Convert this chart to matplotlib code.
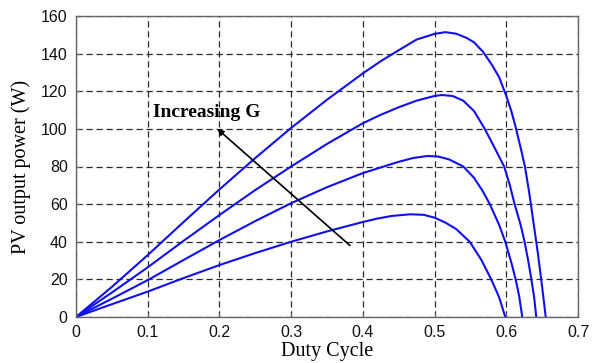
import matplotlib
matplotlib.use("Agg")
import matplotlib.pyplot as plt

# Duty cycle / PV power readings for four irradiance levels (lowest to highest)
x_g1 = [0, 0.05, 0.1, 0.15, 0.2, 0.25, 0.3, 0.35, 0.4, 0.42, 0.44, 0.466, 0.485, 0.5, 0.515, 0.53, 0.549, 0.565, 0.579, 0.59, 0.5986]
p_g1 = [0, 6.8, 13.5, 20.7, 27.6, 34, 40, 45.5, 50.5, 52.3, 53.7, 54.6, 54.3, 52.8, 50.2, 46.8, 40, 30.5, 20, 10.5, 0]

x_g2 = [0, 0.05, 0.1, 0.15, 0.2, 0.25, 0.3, 0.35, 0.4, 0.425, 0.45, 0.47, 0.49, 0.505, 0.52, 0.54, 0.555, 0.567, 0.577, 0.59, 0.5986, 0.607, 0.613, 0.618, 0.6223]
p_g2 = [0, 9.7, 19.6, 30.3, 40.9, 51, 60.5, 69, 76.5, 79.5, 82.5, 84.5, 85.6, 85.3, 83.8, 80, 74, 67, 60, 49, 40, 29, 20, 11, 0]

x_g3 = [0, 0.05, 0.1, 0.15, 0.2, 0.25, 0.3, 0.35, 0.4, 0.425, 0.45, 0.475, 0.5, 0.51, 0.525, 0.54, 0.555, 0.57, 0.585, 0.597, 0.605, 0.6116, 0.62, 0.6255, 0.631, 0.635, 0.639, 0.6418]
p_g3 = [0, 13, 26.4, 40.5, 54.2, 67.5, 80, 92, 103, 107.5, 111.5, 115, 117.5, 118, 117.5, 115, 109.5, 100, 89, 80, 70, 60, 49, 40, 29, 20, 10, 0]

x_g4 = [0, 0.05, 0.1, 0.15, 0.2, 0.25, 0.3, 0.35, 0.4, 0.425, 0.45, 0.475, 0.5, 0.515, 0.53, 0.545, 0.555, 0.5675, 0.58, 0.59, 0.6, 0.607, 0.613, 0.62, 0.626, 0.632, 0.638, 0.644, 0.65, 0.655]
p_g4 = [0, 16, 32.9, 50.5, 67.8, 84.5, 100.5, 115.5, 129.5, 136, 141.8, 147.5, 150.5, 151.4, 150.6, 148.3, 146, 141, 134, 127.5, 117.5, 109.5, 101, 90, 80, 66, 50, 34, 16, 0]

x_ticks = [0, 0.1, 0.2, 0.3, 0.4, 0.5, 0.6, 0.7]
x_tick_labels = ["0", "0.1", "0.2", "0.3", "0.4", "0.5", "0.6", "0.7"]
y_ticks = [0, 20, 40, 60, 80, 100, 120, 140, 160]

arrow_tail = (0.382, 38)
arrow_head = (0.197, 100)
label_pos = (0.107, 108.5)

fig = plt.figure(figsize=(5.92, 3.63), dpi=100)
ax = fig.add_axes([76 / 592, (363 - 317) / 363, 502 / 592, 301 / 363])

for xs, ps in [(x_g1, p_g1), (x_g2, p_g2), (x_g3, p_g3), (x_g4, p_g4)]:
    ax.plot(xs, ps, color="#1010ee", lw=1.5, solid_joinstyle="round")

ax.set_xlim(0, 0.7)
ax.set_ylim(0, 160)
ax.set_xticks(x_ticks)
ax.set_xticklabels(x_tick_labels)
ax.set_yticks(y_ticks)

ax.grid(True, color="#2a2a2a", linestyle=(0, (5, 3)), lw=0.9)
for s in ax.spines.values():
    s.set_color("#666666")
    s.set_linewidth(1.0)

ax.tick_params(direction="in", length=3, color="#666666", labelsize=11.5,
               labelcolor="#111111")
ax.tick_params(axis="x", pad=6)
ax.tick_params(axis="y", pad=6)
for lab in ax.get_xticklabels() + ax.get_yticklabels():
    lab.set_family("Liberation Sans")

ax.set_xlabel("Duty Cycle", family="Liberation Serif", fontsize=14.5, labelpad=1)
ax.set_ylabel("PV output power (W)", family="Liberation Serif", fontsize=14.5, labelpad=7)

ax.annotate("", xy=arrow_head, xytext=arrow_tail,
            arrowprops=dict(arrowstyle="-|>", color="black", lw=1.2,
                            mutation_scale=9, shrinkA=0, shrinkB=0))
ax.text(label_pos[0], label_pos[1], "Increasing G", family="Liberation Serif",
        fontweight="bold", fontsize=14, va="center", ha="left")

fig.savefig("out.png", dpi=100)
